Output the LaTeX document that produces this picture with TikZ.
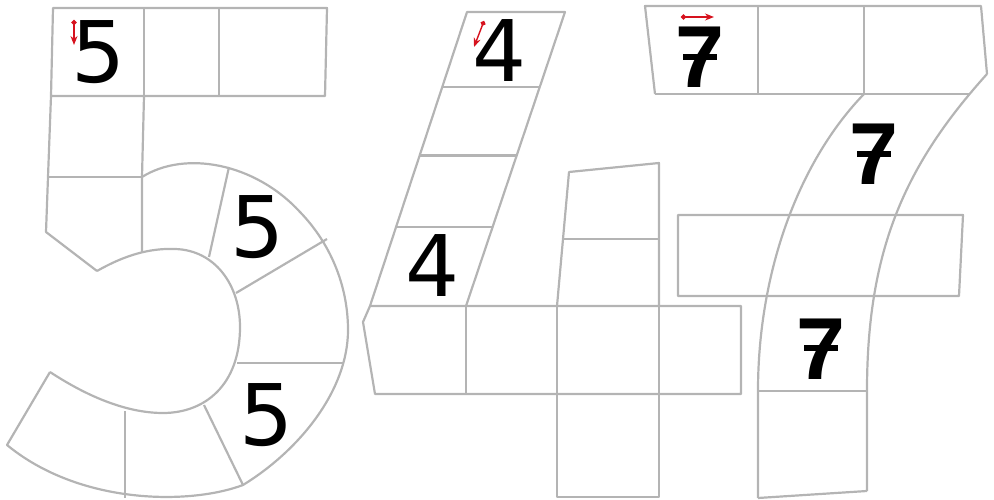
\documentclass[tikz,border=0pt]{standalone}
\usepackage{fontspec}
\newfontfamily\digitfont{DejaVu Sans}
\newfontfamily\sevenfont{Liberation Sans}
\usetikzlibrary{arrows.meta,calc}
\definecolor{linegray}{RGB}{180,180,180}
\definecolor{hintred}{RGB}{214,18,30}
\begin{document}
\begin{tikzpicture}[x=1pt,y=-1pt,
  cell/.style={draw=linegray,line width=2.2pt,line join=round},
  digit/.style={anchor=base,inner sep=0pt,font=\digitfont\fontsize{85}{85}\selectfont},
  digitb/.style={anchor=base,inner sep=0pt,font=\sevenfont\bfseries\fontsize{88}{88}\selectfont},
  crossbar/.style={draw=black,line width=6pt},
  hint/.style={draw=hintred,line width=1.4pt,{Circle[length=5pt]}-{Stealth[length=9pt,width=7pt]}}]
\useasboundingbox (0,0) rectangle (994,500);

% ---------- the 5 ----------
\draw[cell] (53,8) -- (327,8) -- (325,96) -- (51,96) -- cycle;
\draw[cell] (144,8) -- (144,96);
\draw[cell] (219,8) -- (219,96);
\draw[cell] (51,96) -- (48,177) -- (46,232) -- (97,271);
\draw[cell] (144,96) -- (142,177) -- (142,252);
\draw[cell] (48,177) -- (142,177);
\draw[cell] (142,177) .. controls (185,150) and (255,163) .. (300,212)
  .. controls (330,243) and (348,285) .. (348,330)
  .. controls (348,390) and (300,450) .. (243,485)
  .. controls (190,505) and (80,505) .. (7,445) -- (50,372);
\draw[cell] (97,271) .. controls (125,255) and (150,248) .. (175,249)
  .. controls (215,250) and (240,285) .. (240,327)
  .. controls (240,385) and (205,413) .. (163,413)
  .. controls (125,413) and (85,395) .. (50,372);
\draw[cell] (229,167) -- (209,257);
\draw[cell] (327,239) -- (236,293);
\draw[cell] (237,363) -- (343,363);
\draw[cell] (204,405) -- (243,485);
\draw[cell] (125,411) -- (125,498);

\node[digit] (d1) at (99,83) {5};
\node[digit] (d2) at (258,257) {5};
\node[digit] (d3) at (267,445) {5};
\coordinate (a5s) at (74,20);
\coordinate (a5e) at (74,45);
\draw[hint] (a5s) -- (a5e);

% ---------- the 4 ----------
\coordinate (fTL) at (467,12);
\coordinate (fTR) at (565,12);
\coordinate (fBL) at (370,306);
\coordinate (fBR) at (466,306);
\draw[cell] (fBL) -- (fTL) -- (fTR) -- (fBR);
\foreach \t in {0.256,0.488,0.730}
  \draw[cell] ($(fTL)!\t!(fBL)$) -- ($(fTR)!\t!(fBR)$);
\draw[cell] (370,306) -- (363,322) -- (375,394) -- (741,394) -- (741,306) -- cycle;
\draw[cell] (466,306) -- (466,394);
\draw[cell] (557,306) -- (557,394);
\draw[cell] (659,306) -- (659,394);
\draw[cell] (557,394) -- (557,497) -- (659,497) -- (659,394);
\draw[cell] (557,306) -- (569,172) -- (659,163) -- (659,306);
\draw[cell] (563,239) -- (659,239);

\node[digit] (d4) at (500,82) {4};
\node[digit] (d5) at (433,296) {4};
\coordinate (a4s) at (484,21);
\coordinate (a4e) at (474,47);
\draw[hint] (a4s) -- (a4e);

% ---------- the 7 ----------
\draw[cell] (655,94) -- (645,6) -- (981,6) -- (987,74);
\draw[cell] (655,94) -- (970,94);
\draw[cell] (758,6) -- (758,94);
\draw[cell] (864,6) -- (864,94);
\draw[cell] (864,94) .. controls (800,160) and (758,270) .. (758,391) -- (758,498);
\draw[cell] (987,74) .. controls (905,165) and (867,250) .. (867,391) -- (867,491);
\draw[cell] (758,498) -- (867,491);
\draw[cell] (758,391) -- (867,391);
\draw[cell] (678,215) -- (963,215) -- (959,296) -- (678,296) -- cycle;

\node[digitb] (d6) at (700,88) {7};
\node[digitb] (d7) at (874,185) {7};
\node[digitb] (d8) at (821,379) {7};
\foreach \d in {d6,d7,d8}
  \draw[crossbar] ($(\d.base)+(-17,-31)$) -- ($(\d.base)+(17,-31)$);
\coordinate (a7s) at (681,17);
\coordinate (a7e) at (714,17);
\draw[hint] (a7s) -- (a7e);
\end{tikzpicture}
\end{document}
